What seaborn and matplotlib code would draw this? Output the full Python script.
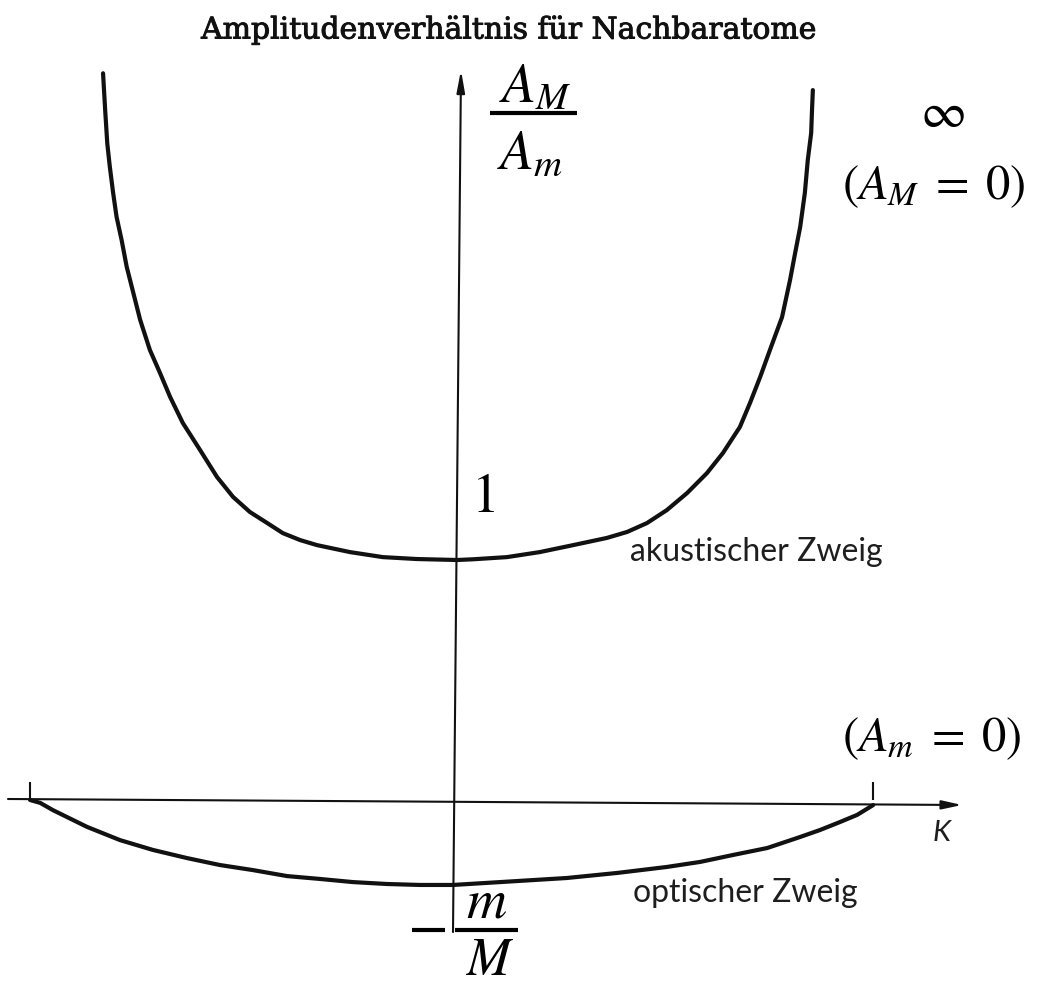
import matplotlib
matplotlib.use("Agg")
import matplotlib.pyplot as plt
import matplotlib.patheffects as pe
import pandas as pd
import seaborn as sns

# Reduced wave number K/K_max and amplitude ratio A_M/A_m, acoustic branch
acoustic_k = [-0.834, -0.829, -0.824, -0.818, -0.810, -0.802, -0.790, -0.778,
              -0.762, -0.746, -0.723, -0.699, -0.675, -0.645, -0.604, -0.564,
              -0.526, -0.486, -0.445, -0.408, -0.367, -0.327, -0.249, -0.171,
              -0.090, 0.005, 0.043, 0.123, 0.201, 0.280, 0.360, 0.408, 0.455,
              0.502, 0.550, 0.597, 0.635, 0.675, 0.699, 0.723, 0.749, 0.775,
              0.794, 0.806, 0.818, 0.829, 0.836, 0.844, 0.846, 0.848]
acoustic_ratio = [3.028, 2.875, 2.736, 2.639, 2.528, 2.430, 2.333, 2.222,
                  2.111, 2.000, 1.875, 1.779, 1.679, 1.571, 1.458, 1.346,
                  1.263, 1.200, 1.154, 1.112, 1.083, 1.062, 1.033, 1.012,
                  1.004, 1.000, 1.003, 1.012, 1.033, 1.062, 1.092, 1.117,
                  1.154, 1.208, 1.279, 1.362, 1.446, 1.554, 1.654, 1.762,
                  1.888, 2.012, 2.167, 2.279, 2.388, 2.529, 2.667, 2.779,
                  2.875, 2.958]

# Optical branch: runs from -m/M at K = 0 to zero at the zone boundary
optical_k = [-1.007, -0.983, -0.953, -0.872, -0.794, -0.716, -0.635, -0.557,
             -0.479, -0.398, -0.320, -0.242, -0.161, -0.083, -0.005, 0.107,
             0.265, 0.384, 0.502, 0.581, 0.659, 0.740, 0.818, 0.865, 0.912,
             0.953, 0.991]
optical_ratio = [0.0, -0.012, -0.042, -0.112, -0.167, -0.208, -0.242, -0.271,
                 -0.292, -0.317, -0.329, -0.342, -0.350, -0.354, -0.354,
                 -0.342, -0.325, -0.304, -0.279, -0.258, -0.229, -0.200,
                 -0.154, -0.125, -0.092, -0.062, -0.021]

zone_edges = [-1.007, 0.991]

title_text = "Amplitudenverhältnis für Nachbaratome"
acoustic_label = "akustischer Zweig"
optical_label = "optischer Zweig"
axis_label_k = "K"

acoustic = pd.DataFrame({"K": acoustic_k, "ratio": acoustic_ratio})
optical = pd.DataFrame({"K": optical_k, "ratio": optical_ratio})

sns.set_theme(style="white")
plt.rcParams["mathtext.fontset"] = "stix"
plt.rcParams["font.family"] = ["DejaVu Sans"]

W, H = 1042, 990
fig = plt.figure(figsize=(W / 100, H / 100), dpi=100)
ax = fig.add_axes([0, 0, 1, 1])

# layout: origin of the K axis and scale of both axes
K0, KSCALE = 455, 422
Y0, YSCALE = 800, 240
ax.set_xlim(-K0 / KSCALE, (W - K0) / KSCALE)
ax.set_ylim(-(H - Y0) / YSCALE, Y0 / YSCALE)
ax.axis("off")


def gx(p):
    return (p - K0) / KSCALE


def gy(p):
    return (Y0 - p) / YSCALE


ink = "#111111"

# coordinate axes with arrow heads
ax.annotate("", xy=(gx(962), gy(805)), xytext=(gx(8), gy(799)),
            arrowprops=dict(arrowstyle="-|>,head_length=1.0,head_width=0.22",
                            lw=1.5, color=ink, shrinkA=0, shrinkB=0))
ax.annotate("", xy=(gx(461), gy(70)), xytext=(gx(453), gy(932)),
            arrowprops=dict(arrowstyle="-|>,head_length=1.1,head_width=0.2",
                            lw=1.5, color=ink, shrinkA=0, shrinkB=0))

# zone boundary marks
for k in zone_edges:
    ax.plot([k, k], [0, 0.075], color=ink, lw=1.5, solid_capstyle="butt")

sns.lineplot(data=acoustic, x="K", y="ratio", sort=False, estimator=None,
             color=ink, lw=3.0, ax=ax)
sns.lineplot(data=optical, x="K", y="ratio", sort=False, estimator=None,
             color=ink, lw=3.0, ax=ax)
for line in ax.get_lines()[-2:]:
    line.set_solid_joinstyle("round")
    line.set_solid_capstyle("round")
ax.set_xlabel("")
ax.set_ylabel("")

# title
ax.text(gx(509), gy(30), title_text, ha="center", va="center",
        fontsize=21.5, family="DejaVu Serif", color=ink,
        path_effects=[pe.withStroke(linewidth=0.7, foreground=ink)])

# ordinate label A_M / A_m
ax.text(gx(535), gy(88), r"$A_M$", ha="center", va="center", fontsize=40,
        color="black")
ax.plot([gx(490), gx(577)], [gy(113), gy(113)], color="black", lw=3.0,
        solid_capstyle="butt")
ax.text(gx(530), gy(153), r"$A_m$", ha="center", va="center", fontsize=40,
        color="black")

# value marks on the ordinate
ax.text(gx(483), gy(497), r"$1$", ha="center", va="center", fontsize=40,
        color="black")
ax.plot([gx(412), gx(445)], [gy(930), gy(930)], color="black", lw=3.0,
        solid_capstyle="butt")
ax.text(gx(487), gy(902), r"$m$", ha="center", va="center", fontsize=40,
        color="black")
ax.plot([gx(455), gx(518)], [gy(930), gy(930)], color="black", lw=3.0,
        solid_capstyle="butt")
ax.text(gx(490), gy(960), r"$M$", ha="center", va="center", fontsize=38,
        color="black")

# limiting cases
ax.text(gx(942), gy(113), r"$\infty$", ha="center", va="center",
        fontsize=36, color="black")
ax.text(gx(934), gy(186), r"$\left(A_M\;=\;0\right)$", ha="center",
        va="center", fontsize=35, color="black")
ax.text(gx(932), gy(738), r"$\left(A_m\;=\;0\right)$", ha="center",
        va="center", fontsize=35, color="black")

# branch names and abscissa label
ax.text(gx(630), gy(552), acoustic_label, ha="left", va="center",
        fontsize=23, family="Lato", color="#1e1e1e")
ax.text(gx(633), gy(893), optical_label, ha="left", va="center",
        fontsize=23, family="Lato", color="#1e1e1e")
ax.text(gx(942), gy(833), axis_label_k, ha="center", va="center",
        fontsize=21, family="Lato", style="italic", color="#1e1e1e")

fig.savefig("out.png", dpi=100, facecolor="white")
